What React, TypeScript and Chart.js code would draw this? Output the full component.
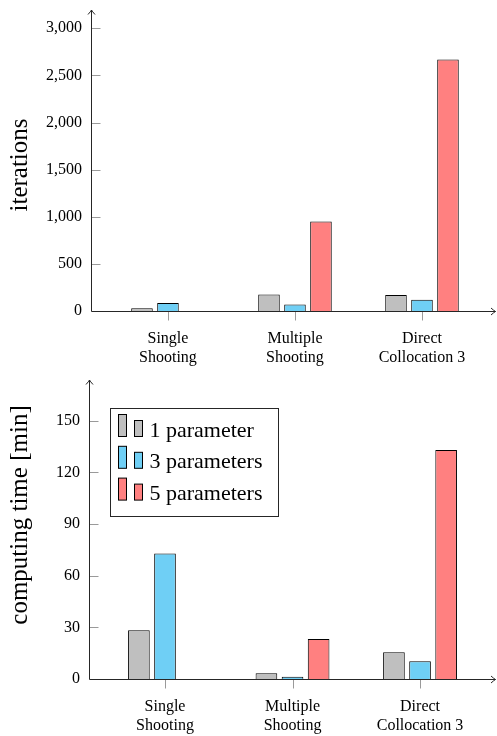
import React, { useEffect, useRef } from "react";
import { Chart, registerables } from "chart.js";

Chart.register(...registerables);

// ---------- data ----------
const categories = ["Single\nShooting", "Multiple\nShooting", "Direct\nCollocation 3"];
const seriesNames = ["1 parameter", "3 parameters", "5 parameters"];

const iterOne = [30, 176, 170];
const iterThree = [85, 70, 120];
const iterFive = [null, 950, 2668];

const timeOne = [28.3, 3.3, 15.5];
const timeThree = [72.8, 1.3, 10.3];
const timeFive = [null, 23.2, 133];

const iterTicks = [0, 500, 1000, 1500, 2000, 2500, 3000];
const timeTicks = [0, 30, 60, 90, 120, 150];

const seriesColors = ["#bfbfbf", "#6fcff5", "#ff8080"];

const SERIF = "'Liberation Serif', 'Times New Roman', serif";

type PanelOpts = {
  series: (number | null)[][];
  ticks: number[];
  yMax: number;
  xMin: number;
  xMax: number;
  yTitle: string;
  titleCenterY: number;
  axisWidth: number;
  padTop: number;
  showLegend: boolean;
  formatTick: (v: number) => string;
};

function arrowHead(ctx: CanvasRenderingContext2D, x: number, y: number, dir: "up" | "right") {
  ctx.beginPath();
  if (dir === "up") {
    ctx.moveTo(x - 3.5, y + 4.5);
    ctx.quadraticCurveTo(x - 0.8, y + 1.5, x, y);
    ctx.quadraticCurveTo(x + 0.8, y + 1.5, x + 3.5, y + 4.5);
  } else {
    ctx.moveTo(x - 4.5, y - 3.5);
    ctx.quadraticCurveTo(x - 1.5, y - 0.8, x, y);
    ctx.quadraticCurveTo(x - 1.5, y + 0.8, x - 4.5, y + 3.5);
  }
  ctx.stroke();
}

function makeDecorPlugin(o: PanelOpts) {
  return {
    id: "decor",
    afterDraw(chart: any) {
      const ctx: CanvasRenderingContext2D = chart.ctx;
      const { left, right, top, bottom } = chart.chartArea;
      const xs = chart.scales.x;
      const ys = chart.scales.y;
      const ax = Math.round(left) + 0.5;
      const ay = Math.round(bottom) + 0.5;
      ctx.save();
      // tick marks
      ctx.strokeStyle = "#9a9a9a";
      ctx.lineWidth = 1;
      o.ticks.forEach((v) => {
        if (v === 0) return;
        const py = Math.round(ys.getPixelForValue(v)) + 0.5;
        ctx.beginPath();
        ctx.moveTo(ax, py);
        ctx.lineTo(ax + 9, py);
        ctx.stroke();
      });
      categories.forEach((_, i) => {
        const px = Math.round(xs.getPixelForValue(i)) + 0.5;
        ctx.beginPath();
        ctx.moveTo(px, ay);
        ctx.lineTo(px, ay + 9);
        ctx.stroke();
      });
      // axis lines
      ctx.strokeStyle = "#262626";
      ctx.lineWidth = 1;
      ctx.beginPath();
      ctx.moveTo(ax, ay);
      ctx.lineTo(ax, top);
      ctx.stroke();
      arrowHead(ctx, ax, top, "up");
      ctx.beginPath();
      ctx.moveTo(ax, ay);
      ctx.lineTo(right + 1.5, ay);
      ctx.stroke();
      arrowHead(ctx, right + 1.5, ay, "right");

      // y title
      ctx.fillStyle = "#000";
      ctx.font = `25px ${SERIF}`;
      ctx.textAlign = "center";
      ctx.textBaseline = "middle";
      ctx.translate(20, o.titleCenterY);
      ctx.rotate(-Math.PI / 2);
      ctx.fillText(o.yTitle, 0, 0);
      ctx.setTransform(1, 0, 0, 1, 0, 0);

      // legend
      if (o.showLegend) {
        const bx = left + 21.5;
        const by = top + 28.5;
        const bw = 168;
        const bh = 108;
        ctx.fillStyle = "#fff";
        ctx.fillRect(bx, by, bw, bh);
        ctx.strokeStyle = "#262626";
        ctx.strokeRect(bx, by, bw, bh);
        ctx.font = `22px ${SERIF}`;
        ctx.textAlign = "left";
        ctx.textBaseline = "alphabetic";
        seriesNames.forEach((name, i) => {
          const base = by + 28 + i * 31.8;
          ctx.fillStyle = seriesColors[i];
          ctx.strokeStyle = "#000";
          ctx.fillRect(bx + 8, base - 22, 8, 22);
          ctx.strokeRect(bx + 8, base - 22, 8, 22);
          ctx.fillRect(bx + 24, base - 16, 8, 16);
          ctx.strokeRect(bx + 24, base - 16, 8, 16);
          ctx.fillStyle = "#000";
          ctx.fillText(name, bx + 39, base);
        });
      }
      ctx.restore();
    },
  };
}

function makeConfig(o: PanelOpts): any {
  return {
    type: "bar",
    data: {
      datasets: o.series.map((vals, si) => ({
        label: seriesNames[si],
        data: vals.map((v, i) => ({ x: i, y: v })),
        backgroundColor: seriesColors[si],
        borderColor: "#000",
        borderWidth: 1,
        categoryPercentage: 0.614,
        barPercentage: 0.83,
      })),
    },
    options: {
      responsive: false,
      animation: false,
      devicePixelRatio: 1,
      layout: { padding: { top: o.padTop, right: 3, left: 0, bottom: 0 } },
      plugins: { legend: { display: false }, tooltip: { enabled: false } },
      scales: {
        x: {
          type: "linear",
          min: o.xMin,
          max: o.xMax,
          offset: false,
          grid: { display: false, drawTicks: false, tickLength: 0 },
          border: { display: false },
          afterBuildTicks: (s: any) => {
            s.ticks = categories.map((_, i) => ({ value: i }));
          },
          afterFit: (s: any) => {
            s.height = 57;
            s.paddingLeft = 0;
            s.paddingRight = 0;
          },
          ticks: {
            autoSkip: false,
            maxRotation: 0,
            padding: 19,
            color: "#000",
            font: { family: SERIF, size: 16, lineHeight: 1.15 },
            callback: (v: number) => {
              const c = categories[Math.round(v)];
              return c ? c.split("\n") : "";
            },
          },
        },
        y: {
          min: 0,
          max: o.yMax,
          grid: { display: false, drawTicks: false, tickLength: 0 },
          border: { display: false },
          afterBuildTicks: (s: any) => {
            s.ticks = o.ticks.map((v) => ({ value: v }));
          },
          afterFit: (s: any) => {
            s.width = o.axisWidth;
            s.paddingTop = 0;
            s.paddingBottom = 0;
          },
          ticks: {
            padding: 9,
            color: "#000",
            font: { family: SERIF, size: 16 },
            callback: (v: number) => o.formatTick(v),
          },
        },
      },
    },
    plugins: [makeDecorPlugin(o)],
  };
}

const topPanel: PanelOpts = {
  series: [iterOne, iterThree, iterFive],
  ticks: iterTicks,
  yMax: 3194,
  xMin: -0.606,
  xMax: 2.567,
  yTitle: "iterations",
  titleCenterY: 165,
  axisWidth: 91,
  padTop: 10,
  showLegend: false,
  formatTick: (v) => v.toLocaleString("en-US"),
};

const bottomPanel: PanelOpts = {
  series: [timeOne, timeThree, timeFive],
  ticks: timeTicks,
  yMax: 173.6,
  xMin: -0.596,
  xMax: 2.58,
  yTitle: "computing time [min]",
  titleCenterY: 147,
  axisWidth: 89,
  padTop: 12,
  showLegend: true,
  formatTick: (v) => String(v),
};

export default function App() {
  const topRef = useRef<HTMLCanvasElement>(null);
  const botRef = useRef<HTMLCanvasElement>(null);

  useEffect(() => {
    const c1 = new Chart(topRef.current as HTMLCanvasElement, makeConfig(topPanel));
    const c2 = new Chart(botRef.current as HTMLCanvasElement, makeConfig(bottomPanel));
    return () => {
      c1.destroy();
      c2.destroy();
    };
  }, []);

  return (
    <div
      style={{
        position: "absolute",
        left: 0,
        top: 0,
        width: 497,
        height: 736,
        background: "#fff",
      }}
    >
      <canvas ref={topRef} width={497} height={368} style={{ display: "block", width: 497, height: 368 }} />
      <canvas ref={botRef} width={497} height={368} style={{ display: "block", width: 497, height: 368 }} />
    </div>
  );
}
